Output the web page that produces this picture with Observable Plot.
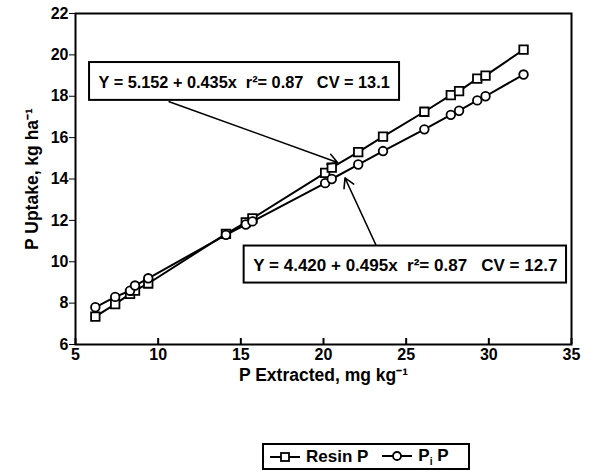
<!DOCTYPE html>
<html>
<head>
<meta charset="utf-8">
<script src="https://cdn.jsdelivr.net/npm/d3@7"></script>
<script src="https://cdn.jsdelivr.net/npm/@observablehq/plot@0.6"></script>
<style>
  body { margin: 0; background: #fff; font-family: "Liberation Sans", Arial, sans-serif; }
  #wrap { position: relative; width: 595px; height: 475px; }
  #legend { position: absolute; left: 262px; top: 443px; width: 208px; height: 27px;
            border: 2px solid #000; box-sizing: border-box; display: flex; align-items: center;
            font: bold 17px "Liberation Sans", Arial, sans-serif; color: #000; padding-left: 6px;
            white-space: nowrap; overflow: visible; }
  #legend svg { display: block; flex-shrink: 0; }
  #legend .item { display: flex; align-items: center; margin-right: 14px; flex-shrink: 0; white-space: nowrap; }
  #legend .item span { margin-left: 6px; white-space: nowrap; }
</style>
</head>
<body>
<div id="wrap">
  <div id="chart"></div>
  <div id="legend"></div>
</div>
<script>
// ---- data ----
const extracted = [6.2, 7.4, 8.3, 8.6, 9.4, 14.1, 15.3, 15.7, 20.1, 20.5, 22.1, 23.6, 26.1, 27.7, 28.2, 29.3, 29.8, 32.1];
const resinP   = [7.35, 7.95, 8.45, 8.6, 8.95, 11.35, 11.9, 12.1, 14.3, 14.55, 15.3, 16.05, 17.25, 18.05, 18.25, 18.85, 19.0, 20.25];
const piP      = [7.8, 8.3, 8.6, 8.85, 9.2, 11.3, 11.8, 11.95, 13.8, 14.0, 14.7, 15.35, 16.4, 17.1, 17.3, 17.8, 18.0, 19.05];
const seriesNames = ["Resin P", "Pi P"];
const xTicks = [5, 10, 15, 20, 25, 30, 35];
const yTicks = [6, 8, 10, 12, 14, 16, 18, 20, 22];
const equations = ["Y = 5.152 + 0.435x  r\u00B2= 0.87   CV = 13.1", "Y = 4.420 + 0.495x  r\u00B2= 0.87   CV = 12.7"];
const eqFontSizes = [16.3, 17];
// annotation boxes (data units): x1, x2, y1, y2, text x, text y
const boxX1 = [5.85, 15.2], boxX2 = [24.6, 34.7], boxY1 = [17.8, 8.97], boxY2 = [19.63, 10.76];
const textX = [15.2, 24.95], textY = [18.65, 9.8];
// arrows (data units)
const arrX1 = [10.67, 23.2], arrY1 = [17.74, 10.76], arrX2 = [20.85, 21.3], arrY2 = [14.8, 14.05];

const resinRows = extracted.map((x, i) => ({x, y: resinP[i]}));
const piRows = extracted.map((x, i) => ({x, y: piP[i]}));
const boxes = equations.map((t, i) => ({t, fs: eqFontSizes[i], x1: boxX1[i], x2: boxX2[i], y1: boxY1[i], y2: boxY2[i], tx: textX[i], ty: textY[i]}));
const arrows = arrX1.map((x, i) => ({x1: x, y1: arrY1[i], x2: arrX2[i], y2: arrY2[i]}));

const font = "Liberation Sans, Arial, sans-serif";

const chart = Plot.plot({
  width: 595,
  height: 400,
  marginTop: 13,
  marginBottom: 56,
  marginLeft: 75,
  marginRight: 24,
  style: {fontFamily: font, fontSize: "16px", fontWeight: "bold", color: "#000", background: "#fff"},
  x: {domain: [5, 35], ticks: xTicks},
  y: {domain: [6, 22], ticks: yTicks},
  marks: [
    Plot.axisY({ticks: yTicks, tickSize: 6, tickPadding: 1, label: "P Uptake, kg ha\u207B\u00B9", labelAnchor: "center", labelOffset: 50, labelArrow: "none", fontSize: 16, fontWeight: "bold"}),
    Plot.axisX({ticks: xTicks, tickSize: 0, tickPadding: 4, label: "P Extracted, mg kg\u207B\u00B9", labelAnchor: "center", labelOffset: 36, labelArrow: "none", fontSize: 16, fontWeight: "bold"}),
    Plot.axisX({ticks: xTicks, tickSize: -6, tickFormat: () => "", label: null, strokeWidth: 2}),
    Plot.frame({stroke: "#000", strokeWidth: 2}),
    Plot.line(resinRows, {x: "x", y: "y", stroke: "#000", strokeWidth: 2}),
    Plot.line(piRows, {x: "x", y: "y", stroke: "#000", strokeWidth: 2}),
    Plot.dot(resinRows, {x: "x", y: "y", symbol: "square", r: 4.8, fill: "#fff", stroke: "#000", strokeWidth: 1.8}),
    Plot.dot(piRows, {x: "x", y: "y", symbol: "circle", r: 4.3, fill: "#fff", stroke: "#000", strokeWidth: 1.8}),
    Plot.arrow(arrows, {x1: "x1", y1: "y1", x2: "x2", y2: "y2", stroke: "#000", strokeWidth: 1.6, headLength: 10, bend: 0}),
    Plot.rect(boxes, {x1: "x1", x2: "x2", y1: "y1", y2: "y2", fill: "#fff", stroke: "#000", strokeWidth: 2}),
    Plot.text(boxes.slice(0, 1), {x: "tx", y: "ty", text: "t", fontSize: eqFontSizes[0], fontWeight: "bold", fill: "#000"}),
    Plot.text(boxes.slice(1), {x: "tx", y: "ty", text: "t", fontSize: eqFontSizes[1], fontWeight: "bold", fill: "#000"})
  ]
});
// enlarge axis titles slightly
chart.querySelectorAll("g[aria-label='x-axis label'] text, g[aria-label='y-axis label'] text").forEach(t => t.setAttribute("font-size", "17.5"));
document.getElementById("chart").appendChild(chart);

// legend
const legend = document.getElementById("legend");
const symbols = ["square", "circle"];
seriesNames.forEach((name, i) => {
  const item = document.createElement("div");
  item.className = "item";
  const ns = "http://www.w3.org/2000/svg";
  const s = document.createElementNS(ns, "svg");
  s.setAttribute("width", 30); s.setAttribute("height", 14);
  const l = document.createElementNS(ns, "line");
  l.setAttribute("x1", 0); l.setAttribute("x2", 30); l.setAttribute("y1", 7); l.setAttribute("y2", 7);
  l.setAttribute("stroke", "#000"); l.setAttribute("stroke-width", 2);
  s.appendChild(l);
  let m;
  if (symbols[i] === "square") {
    m = document.createElementNS(ns, "rect");
    m.setAttribute("x", 11); m.setAttribute("y", 3); m.setAttribute("width", 8); m.setAttribute("height", 8);
  } else {
    m = document.createElementNS(ns, "circle");
    m.setAttribute("cx", 15); m.setAttribute("cy", 7); m.setAttribute("r", 4);
  }
  m.setAttribute("fill", "#fff"); m.setAttribute("stroke", "#000"); m.setAttribute("stroke-width", 1.8);
  s.appendChild(m);
  item.appendChild(s);
  const sp = document.createElement("span");
  if (i === 1) sp.innerHTML = "P<sub style='font-size:10px'>i</sub> P"; else sp.textContent = name;
  item.appendChild(sp);
  legend.appendChild(item);
});
</script>
</body>
</html>
